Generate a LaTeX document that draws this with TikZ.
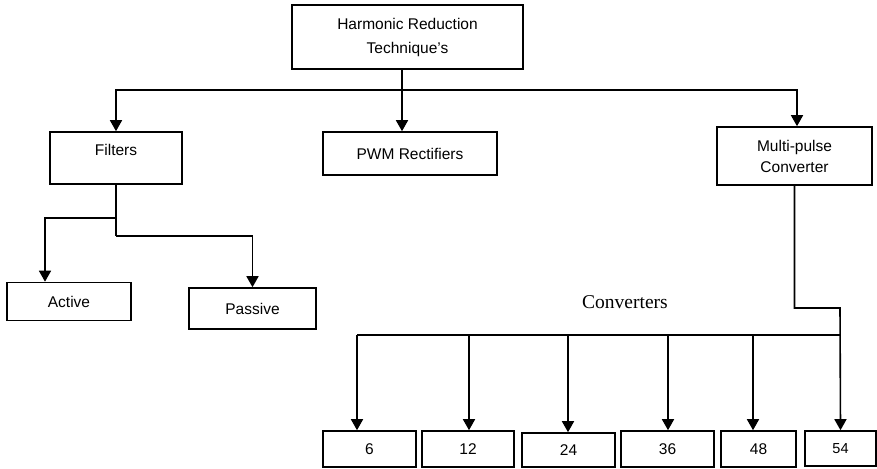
\documentclass[tikz,border=0pt]{standalone}
\usepackage{fontspec}
\setmainfont{Liberation Sans}
\newfontfamily\seriffont{Liberation Serif}
\usetikzlibrary{arrows.meta}

\begin{document}
\begin{tikzpicture}[x=1pt,y=-1pt,line width=1.6pt,
		box/.style={draw,inner sep=0pt,align=center,font=\fontsize{15.5}{21}\selectfont},
		arr/.style={-{Triangle[width=12pt,length=11pt]}}]
			
				\useasboundingbox (0,0) rectangle (877,468);
				
				% top level
				\node[box,minimum width=231pt,minimum height=64pt,font=\fontsize{15.5}{24}\selectfont] (top) at (407.5,37) {Harmonic Reduction\\Technique's};
				\node[box,minimum width=132pt,minimum height=52pt,text depth=16pt] (filters) at (116,158) {Filters};
				\node[box,minimum width=174pt,minimum height=43pt] (pwm) at (410,153.5) {PWM Rectifiers};
				\node[box,minimum width=155pt,minimum height=58pt] (multi) at (794.5,156) {Multi-pulse\\Converter};
				
				% filters
				\node[box,minimum width=124pt,minimum height=38pt] (active) at (69,301.5) {Active};
				\node[box,minimum width=127pt,minimum height=41pt] (passive) at (252.5,308.5) {Passive};
				
				% converters
				\node[font=\seriffont\fontsize{19.5}{22}\selectfont] (conv) at (625,302) {Converters};
				\node[box,minimum width=93pt,minimum height=36pt] (n6) at (369.5,449) {6};
				\node[box,minimum width=92pt,minimum height=36pt] (n12) at (468,449) {12};
				\node[box,minimum width=93pt,minimum height=34pt] (n24) at (568.5,450) {24};
				\node[box,minimum width=93pt,minimum height=36pt] (n36) at (667.5,449) {36};
				\node[box,minimum width=75pt,minimum height=36pt] (n48) at (758.5,449) {48};
				\node[box,minimum width=71pt,minimum height=35pt,font=\fontsize{14.5}{17}\selectfont] (n54) at (840.5,448.5) {54};
				
				\coordinate (split) at (402,90);
				\coordinate (fsplit) at (116,236);
				\coordinate (fsplit2) at (116,218);
				\coordinate (jog) at (840,308);
				\coordinate (bus) at (357,335);
				
				\draw[arr] (split |- top.south) -- (split |- pwm.north);
				\draw[arr] (split) -| (filters.north);
				\draw[arr] (split) -| ([xshift=2.5pt]multi.north);
				
				\draw (filters.south) -- (fsplit);
				\draw[arr] (fsplit2) -| ([xshift=-24pt]active.north);
				\draw[arr] (fsplit) -| (passive.north);
				
				\draw[arr] (multi.south) |- (jog) -- (n54.north);
				\draw (bus) -- (jog |- bus);
				\foreach \n/\x in {6/357,12/469,24/568,36/668,48/753}
					\draw[arr] (\x,335) -- (\x,0 |- n\n.north);
			\end{tikzpicture}
\end{document}
